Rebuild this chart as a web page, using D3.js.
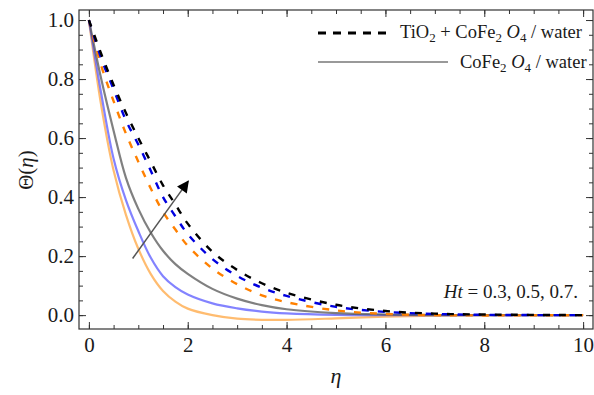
<!DOCTYPE html>
<html>
<head>
<meta charset="utf-8">
<script src="https://cdn.jsdelivr.net/npm/d3@7"></script>
<style>
  body { margin: 0; background: #fff; }
  svg text { font-family: "Liberation Serif", "DejaVu Serif", serif; fill: #1a1a1a; }
</style>
</head>
<body>
<div id="chart"></div>
<script>
// data
var eta = [0, 0.25, 0.5, 0.75, 1, 1.25, 1.5, 1.75, 2, 2.5, 3, 3.5, 4, 5, 6, 7, 8, 10];

// TiO2 + CoFe2O4 / water (dashed)
var hybrid03 = [1, 0.845, 0.725, 0.615, 0.52, 0.43, 0.35, 0.29, 0.235, 0.158, 0.105, 0.067, 0.044, 0.016, 0.004, 0.0, -0.001, 0];
var hybrid05 = [1, 0.87, 0.765, 0.66, 0.578, 0.49, 0.40, 0.335, 0.275, 0.19, 0.133, 0.093, 0.065, 0.028, 0.011, 0.004, 0.001, 0];
var hybrid07 = [1, 0.885, 0.78, 0.685, 0.60, 0.52, 0.44, 0.375, 0.31, 0.215, 0.153, 0.108, 0.076, 0.035, 0.014, 0.005, 0.002, 0];

// CoFe2O4 / water (solid)
var mono03 = [1, 0.71, 0.49, 0.34, 0.225, 0.14, 0.082, 0.046, 0.022, 0.0, -0.012, -0.016, -0.016, -0.011, -0.005, -0.002, 0, 0];
var mono05 = [1, 0.75, 0.53, 0.39, 0.285, 0.195, 0.132, 0.095, 0.07, 0.04, 0.023, 0.012, 0.006, 0.001, 0, 0, 0, 0];
var mono07 = [1, 0.80, 0.625, 0.465, 0.36, 0.28, 0.218, 0.173, 0.14, 0.089, 0.056, 0.034, 0.02, 0.007, 0.002, 0, 0, 0];

var xMajor = [0, 2, 4, 6, 8, 10];
var yMajor = [0, 0.2, 0.4, 0.6, 0.8, 1.0];
var arrowPts = [[0.885, 0.192], [2.01, 0.454]];

var width = 594, height = 395;
var svg = d3.select("#chart").append("svg")
    .attr("width", width)
    .attr("height", height);

var x = d3.scaleLinear().domain([-0.2, 10.2]).range([79, 593]);
var y = d3.scaleLinear().domain([-0.047, 1.034]).range([329, 10]);

var xMinor = d3.range(0, 10.01, 0.5);
var yMinor = d3.range(0, 1.001, 0.05);

function styleAxis(g) {
  g.select(".domain").remove();
  g.selectAll("line").attr("stroke", "#333").attr("stroke-width", 1);
  g.selectAll("text").style("font-size", "21px").attr("fill", "#1a1a1a");
}

// minor ticks
svg.append("g").attr("transform", "translate(0,329)")
  .call(d3.axisBottom(x).tickValues(xMinor).tickSize(-4).tickFormat("")).call(styleAxis);
svg.append("g").attr("transform", "translate(0,10)")
  .call(d3.axisTop(x).tickValues(xMinor).tickSize(-4).tickFormat("")).call(styleAxis);
svg.append("g").attr("transform", "translate(79,0)")
  .call(d3.axisLeft(y).tickValues(yMinor).tickSize(-4).tickFormat("")).call(styleAxis);
svg.append("g").attr("transform", "translate(593,0)")
  .call(d3.axisRight(y).tickValues(yMinor).tickSize(-4).tickFormat("")).call(styleAxis);

// major ticks
svg.append("g").attr("transform", "translate(0,329)")
  .call(d3.axisBottom(x).tickValues(xMajor).tickSize(-7).tickPadding(8).tickFormat(d3.format("d")))
  .call(styleAxis);
svg.append("g").attr("transform", "translate(0,10)")
  .call(d3.axisTop(x).tickValues(xMajor).tickSize(-7).tickFormat("")).call(styleAxis);
svg.append("g").attr("transform", "translate(79,0)")
  .call(d3.axisLeft(y).tickValues(yMajor).tickSize(-7).tickPadding(5).tickFormat(d3.format(".1f")))
  .call(styleAxis);
svg.append("g").attr("transform", "translate(593,0)")
  .call(d3.axisRight(y).tickValues(yMajor).tickSize(-7).tickFormat("")).call(styleAxis);

// frame
svg.append("rect")
  .attr("x", 79).attr("y", 10)
  .attr("width", 514).attr("height", 319)
  .attr("fill", "none").attr("stroke", "#333").attr("stroke-width", 1.2);

var line = d3.line()
  .x(function(d) { return x(d[0]); })
  .y(function(d) { return y(d[1]); })
  .curve(d3.curveCatmullRom.alpha(0.5));

function pts(vals) { return eta.map(function(e, i) { return [e, vals[i]]; }); }

var plot = svg.append("g");

// solid curves
var solids = [
  {vals: mono03, color: "#ffa640"},
  {vals: mono05, color: "#5a5aff"},
  {vals: mono07, color: "#555555"}
];
solids.forEach(function(s) {
  plot.append("path")
    .attr("d", line(pts(s.vals)))
    .attr("fill", "none")
    .attr("stroke", s.color)
    .attr("stroke-opacity", 0.75)
    .attr("stroke-width", 2.2);
});

// dashed curves
var dashes = [
  {vals: hybrid03, color: "#ff8000"},
  {vals: hybrid05, color: "#0000e0"},
  {vals: hybrid07, color: "#000000"}
];
dashes.forEach(function(s) {
  plot.append("path")
    .attr("d", line(pts(s.vals)))
    .attr("fill", "none")
    .attr("stroke", s.color)
    .attr("stroke-width", 2.4)
    .attr("stroke-dasharray", "7,9");
});

// arrow
var defs = svg.append("defs");
defs.append("marker")
  .attr("id", "head")
  .attr("viewBox", "0 0 10 10")
  .attr("refX", 9).attr("refY", 5)
  .attr("markerWidth", 16).attr("markerHeight", 12)
  .attr("markerUnits", "userSpaceOnUse")
  .attr("orient", "auto")
  .append("path")
  .attr("d", "M0,0 L10,5 L0,10 Z")
  .attr("fill", "#000");

svg.append("line")
  .attr("x1", x(arrowPts[0][0])).attr("y1", y(arrowPts[0][1]))
  .attr("x2", x(arrowPts[1][0])).attr("y2", y(arrowPts[1][1]))
  .attr("stroke", "#555").attr("stroke-width", 1.5)
  .attr("marker-end", "url(#head)");

// annotation
var ann = svg.append("text")
  .attr("x", 578).attr("y", 298)
  .attr("text-anchor", "end")
  .style("font-size", "19px");
ann.append("tspan").style("font-style", "italic").text("Ht");
ann.append("tspan").text(" = 0.3, 0.5, 0.7.");

// legend
svg.append("line")
  .attr("x1", 318).attr("x2", 390).attr("y1", 33).attr("y2", 33)
  .attr("stroke", "#000").attr("stroke-width", 3)
  .attr("stroke-dasharray", "8,7");
var l1 = svg.append("text").attr("x", 400).attr("y", 38).style("font-size", "18.5px");
l1.append("tspan").text("TiO");
l1.append("tspan").attr("dy", 4).style("font-size", "13px").text("2");
l1.append("tspan").attr("dy", -4).text(" + CoFe");
l1.append("tspan").attr("dy", 4).style("font-size", "13px").text("2");
l1.append("tspan").attr("dy", -4).text(" ");
l1.append("tspan").style("font-style", "italic").text("O");
l1.append("tspan").attr("dy", 4).style("font-size", "13px").text("4");
l1.append("tspan").attr("dy", -4).text(" / water");

svg.append("line")
  .attr("x1", 318).attr("x2", 448).attr("y1", 62).attr("y2", 62)
  .attr("stroke", "#777").attr("stroke-width", 1.6);
var l2 = svg.append("text").attr("x", 460).attr("y", 68).style("font-size", "18.5px");
l2.append("tspan").text("CoFe");
l2.append("tspan").attr("dy", 4).style("font-size", "13px").text("2");
l2.append("tspan").attr("dy", -4).text(" ");
l2.append("tspan").style("font-style", "italic").text("O");
l2.append("tspan").attr("dy", 4).style("font-size", "13px").text("4");
l2.append("tspan").attr("dy", -4).text(" / water");

// axis titles
svg.append("text")
  .attr("x", 336).attr("y", 383)
  .attr("text-anchor", "middle")
  .style("font-size", "22px").style("font-style", "italic")
  .text("η");

var yl = svg.append("text")
  .attr("transform", "translate(33,170) rotate(-90)")
  .attr("text-anchor", "middle")
  .style("font-size", "21px");
yl.append("tspan").text("Θ(");
yl.append("tspan").style("font-style", "italic").text("η");
yl.append("tspan").text(")");
</script>
</body>
</html>
